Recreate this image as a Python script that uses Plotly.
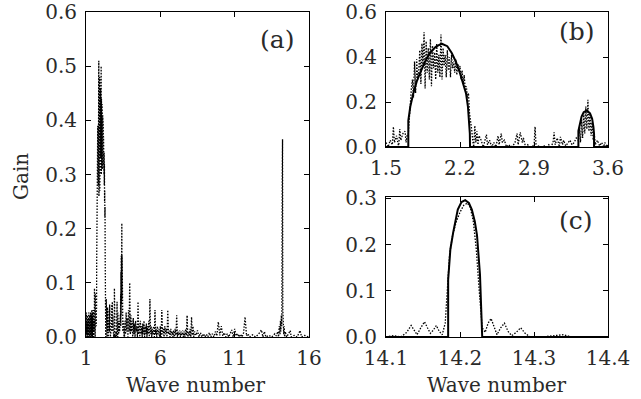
import plotly.graph_objects as go

# ---------------- data ----------------
# panel (a): leading part 1.0-1.5 of the simulated gain (dotted)
a_lead_x = [1.000, 1.015, 1.030, 1.045, 1.060, 1.075, 1.090, 1.105, 1.120, 1.135, 1.150,
            1.165, 1.180, 1.195, 1.210, 1.225, 1.240, 1.255, 1.270, 1.285, 1.300, 1.315,
            1.330, 1.345, 1.360, 1.375, 1.390, 1.405, 1.420, 1.435, 1.450, 1.465, 1.480,
            1.490]
a_lead_y = [0.04, 0.0, 0.045, 0.005, 0.03, 0.0, 0.04, 0.01, 0.025, 0.0, 0.035,
            0.005, 0.045, 0.0, 0.03, 0.01, 0.04, 0.0, 0.035, 0.005, 0.045, 0.0,
            0.03, 0.01, 0.04, 0.0, 0.05, 0.005, 0.035, 0.0, 0.045, 0.01, 0.05,
            0.0]

# simulated gain in 1.5-3.6 (dotted, panel b and part of a)
b_dot_x = [1.50, 1.52, 1.54, 1.56, 1.57, 1.58, 1.60, 1.62, 1.63, 1.64, 1.66, 1.68, 1.69, 1.70,
           1.710, 1.720, 1.730, 1.740, 1.750, 1.760, 1.770, 1.780, 1.790, 1.800, 1.810, 1.820,
           1.830, 1.840, 1.850, 1.860, 1.870, 1.880, 1.890, 1.900, 1.910, 1.920, 1.930, 1.940,
           1.950, 1.960, 1.970, 1.980, 1.990, 2.000, 2.010, 2.020, 2.030, 2.040, 2.050, 2.060,
           2.070, 2.080, 2.090, 2.100, 2.110, 2.120, 2.130, 2.140, 2.150, 2.160, 2.170, 2.180,
           2.190, 2.200, 2.210, 2.220, 2.230, 2.240, 2.250, 2.260, 2.270, 2.280, 2.290, 2.300,
           2.310, 2.320, 2.330,
           2.34, 2.35, 2.36, 2.37, 2.38, 2.40, 2.42, 2.44, 2.45, 2.46, 2.48, 2.50, 2.52, 2.54,
           2.56, 2.57, 2.59, 2.60, 2.62, 2.64, 2.66, 2.68, 2.70, 2.72, 2.74, 2.75, 2.77, 2.79,
           2.80, 2.82, 2.84, 2.86, 2.88, 2.90, 2.91, 2.92, 2.94, 2.96, 2.98, 3.00, 3.02, 3.04,
           3.06, 3.08, 3.09, 3.10, 3.12, 3.14, 3.15, 3.17, 3.18, 3.20, 3.22, 3.24, 3.26, 3.28,
           3.30, 3.32,
           3.33, 3.34, 3.35, 3.36, 3.37, 3.38, 3.39, 3.40, 3.41, 3.42, 3.43, 3.44, 3.45, 3.46,
           3.47, 3.48, 3.50, 3.52, 3.54, 3.56, 3.57, 3.59, 3.60]
b_dot_y = [0.02, 0.0, 0.03, 0.01, 0.09, 0.02, 0.05, 0.0, 0.08, 0.03, 0.06, 0.07, 0.02, 0.05,
           0.05, 0.14, 0.22, 0.26, 0.30, 0.22, 0.38, 0.24, 0.39, 0.30, 0.34, 0.43,
           0.28, 0.46, 0.36, 0.51, 0.26, 0.47, 0.33, 0.44, 0.30, 0.48, 0.27, 0.45,
           0.35, 0.42, 0.30, 0.46, 0.33, 0.41, 0.31, 0.50, 0.30, 0.44, 0.36, 0.41,
           0.31, 0.43, 0.34, 0.40, 0.31, 0.41, 0.35, 0.38, 0.33, 0.39, 0.32, 0.37,
           0.34, 0.36, 0.30, 0.34, 0.28, 0.32, 0.25, 0.27, 0.22, 0.24, 0.15, 0.12,
           0.08, 0.03, 0.0,
           0.095, 0.02, 0.07, 0.01, 0.05, 0.03, 0.0, 0.04, 0.055, 0.01, 0.03, 0.0, 0.02, 0.0,
           0.05, 0.01, 0.06, 0.02, 0.03, 0.0, 0.01, 0.0, 0.005, 0.02, 0.06, 0.01, 0.065, 0.02,
           0.04, 0.0, 0.01, 0.0, 0.005, 0.0, 0.09, 0.0, 0.005, 0.0, 0.0, 0.005, 0.0, 0.01,
           0.0, 0.02, 0.065, 0.01, 0.04, 0.0, 0.045, 0.01, 0.03, 0.005, 0.02, 0.03, 0.01, 0.02,
           0.04, 0.03,
           0.08, 0.02, 0.12, 0.04, 0.15, 0.06, 0.18, 0.08, 0.21, 0.07, 0.15, 0.05, 0.11, 0.03,
           0.06, 0.01, 0.03, 0.005, 0.02, 0.0, 0.02, 0.0, 0.01]

# panel (a): tail 3.6-16 (dotted)
a_tail_x = [3.62, 3.66, 3.70, 3.74, 3.78, 3.82, 3.86, 3.90, 3.94, 3.98, 4.02, 4.06, 4.10,
            4.14, 4.18, 4.22, 4.26, 4.30, 4.34, 4.38, 4.42, 4.46, 4.50, 4.54, 4.58, 4.62,
            4.66, 4.70, 4.74, 4.78, 4.82, 4.86, 4.90, 4.94, 4.98, 5.02, 5.06, 5.10, 5.14,
            5.18, 5.22, 5.26, 5.30, 5.34, 5.38, 5.42, 5.46, 5.50, 5.55, 5.60, 5.64, 5.68,
            5.72, 5.76, 5.80, 5.85, 5.90, 5.95, 6.00, 6.05, 6.10, 6.15, 6.20, 6.25, 6.30,
            6.35, 6.40, 6.45, 6.50, 6.55, 6.60, 6.65, 6.70, 6.75, 6.80, 6.85, 6.90, 6.95,
            7.00, 7.05, 7.10, 7.15, 7.20, 7.25, 7.30, 7.35, 7.40, 7.45, 7.50, 7.55, 7.60,
            7.65, 7.70, 7.75, 7.80, 7.85, 7.90, 7.95, 8.00, 8.05, 8.10, 8.15, 8.20, 8.25,
            8.30, 8.40, 8.50, 8.60, 8.70, 8.80, 8.90, 9.00, 9.10, 9.20, 9.30, 9.40, 9.50,
            9.60, 9.70, 9.80, 9.90, 10.00, 10.10, 10.20, 10.30, 10.40, 10.50, 10.60, 10.70,
            10.80, 10.90, 11.00, 11.10, 11.20, 11.30, 11.40, 11.50, 11.60, 11.70, 11.80,
            11.90, 12.00, 12.20, 12.40, 12.60, 12.80, 12.90, 13.00, 13.10, 13.30, 13.50,
            13.70, 13.80, 13.90, 13.95, 14.00, 14.05, 14.08, 14.11, 14.14, 14.17, 14.20,
            14.22, 14.24, 14.26, 14.28, 14.30, 14.33, 14.36, 14.40, 14.50, 14.60, 14.74,
            14.80, 15.00, 15.20, 15.40, 15.50, 15.70, 16.00]
a_tail_y = [0.03, 0.005, 0.045, 0.01, 0.035, 0.0, 0.05, 0.01, 0.1, 0.005, 0.04, 0.01, 0.03,
            0.0, 0.035, 0.005, 0.025, 0.0, 0.03, 0.01, 0.02, 0.0, 0.065, 0.005, 0.025, 0.0,
            0.03, 0.005, 0.02, 0.0, 0.025, 0.005, 0.03, 0.0, 0.02, 0.005, 0.025, 0.0, 0.02,
            0.005, 0.03, 0.0, 0.07, 0.005, 0.02, 0.0, 0.015, 0.005, 0.02, 0.0, 0.05, 0.005,
            0.015, 0.0, 0.02, 0.005, 0.015, 0.0, 0.02, 0.0, 0.05, 0.005, 0.015, 0.0, 0.02,
            0.005, 0.015, 0.0, 0.05, 0.005, 0.012, 0.0, 0.015, 0.003, 0.01, 0.0, 0.012, 0.0,
            0.015, 0.003, 0.04, 0.0, 0.01, 0.003, 0.012, 0.0, 0.01, 0.003, 0.012, 0.0, 0.01,
            0.0, 0.015, 0.003, 0.04, 0.0, 0.01, 0.003, 0.015, 0.0, 0.037, 0.003, 0.02, 0.0,
            0.01, 0.003, 0.012, 0.0, 0.008, 0.0, 0.006, 0.0, 0.005, 0.0, 0.008, 0.0, 0.006,
            0.0, 0.01, 0.002, 0.028, 0.003, 0.02, 0.002, 0.008, 0.0, 0.006, 0.0, 0.008,
            0.013, 0.0, 0.015, 0.002, 0.006, 0.0, 0.005, 0.0, 0.008, 0.037, 0.002,
            0.006, 0.0, 0.004, 0.0, 0.005, 0.013, 0.0, 0.01, 0.0, 0.003, 0.0,
            0.006, 0.002, 0.01, 0.0, 0.02, 0.005, 0.03, 0.01, 0.04, 0.02, 0.30,
            0.365, 0.05, 0.01, 0.04, 0.005, 0.02, 0.0, 0.01, 0.0, 0.005, 0.012,
            0.0, 0.003, 0.0, 0.012, 0.0, 0.003, 0.0]

# theory curve, panel (b) (solid)
b_fit_x = [1.50, 1.711, 1.711, 1.73, 1.758, 1.79, 1.822, 1.87, 1.916, 1.97, 2.027, 2.08,
           2.122, 2.16, 2.20, 2.235, 2.257, 2.275, 2.288, 2.293, 2.295, 3.32, 3.32, 3.335,
           3.35, 3.37, 3.40, 3.43, 3.45, 3.462, 3.468, 3.468, 3.60]
b_fit_y = [0.0, 0.0, 0.117, 0.18, 0.238, 0.29, 0.328, 0.38, 0.418, 0.445, 0.459, 0.448,
           0.418, 0.38, 0.328, 0.27, 0.238, 0.18, 0.117, 0.06, 0.0, 0.0, 0.072, 0.11,
           0.135, 0.155, 0.162, 0.15, 0.125, 0.09, 0.058, 0.0, 0.0]

# panel (c): simulated gain (dotted) and theory (solid)
c_dot_x = [14.100, 14.110, 14.120, 14.128, 14.134, 14.138, 14.142, 14.147, 14.152, 14.156,
           14.160, 14.164, 14.168, 14.172, 14.176, 14.180, 14.183, 14.186, 14.190, 14.195,
           14.200, 14.205, 14.210, 14.214, 14.218, 14.222, 14.226, 14.230, 14.234, 14.238,
           14.242, 14.246, 14.250, 14.255, 14.260, 14.265, 14.270, 14.276, 14.282, 14.288,
           14.295, 14.310, 14.330, 14.340, 14.350, 14.380, 14.400]
c_dot_y = [0.0, 0.003, 0.0, 0.01, 0.025, 0.015, 0.005, 0.02, 0.033, 0.02,
           0.008, 0.015, 0.025, 0.012, 0.005, 0.03, 0.12, 0.18, 0.22, 0.25,
           0.27, 0.285, 0.29, 0.28, 0.25, 0.19, 0.1, 0.02, 0.01, 0.03,
           0.04, 0.02, 0.005, 0.02, 0.03, 0.012, 0.003, 0.01, 0.02, 0.008,
           0.0, 0.0, 0.003, 0.005, 0.0, 0.0, 0.0]
c_fit_x = [14.10, 14.184, 14.184, 14.187, 14.191, 14.197, 14.202, 14.207, 14.212, 14.216,
           14.220, 14.223, 14.227, 14.229, 14.230, 14.40]
c_fit_y = [0.0, 0.0, 0.124, 0.19, 0.228, 0.276, 0.292, 0.296, 0.29, 0.276,
           0.25, 0.22, 0.135, 0.06, 0.0, 0.0]

a_x_ticks = [1, 6, 11, 16]
b_x_ticks = [1.5, 2.2, 2.9, 3.6]
c_x_ticks = [14.1, 14.2, 14.3, 14.4]

# ---------------- figure ----------------
W, H = 641, 399
FONT = "DejaVu Serif"
TXT = "#2a2a2a"
DOT = dict(color="black", width=1.3, dash="1.5px,1.5px")
SOLID = dict(color="black", width=2)

a_x = a_lead_x + b_dot_x + a_tail_x
a_y = a_lead_y + b_dot_y + a_tail_y

fig = go.Figure()
fig.add_trace(go.Scatter(x=a_x, y=a_y, mode="lines", line=DOT, xaxis="x", yaxis="y"))
fig.add_trace(go.Scatter(x=b_dot_x, y=b_dot_y, mode="lines", line=DOT, xaxis="x2", yaxis="y2"))
fig.add_trace(go.Scatter(x=b_fit_x, y=b_fit_y, mode="lines", line=SOLID, xaxis="x2", yaxis="y2"))
fig.add_trace(go.Scatter(x=c_dot_x, y=c_dot_y, mode="lines", line=DOT, xaxis="x3", yaxis="y3"))
fig.add_trace(go.Scatter(x=c_fit_x, y=c_fit_y, mode="lines", line=SOLID, xaxis="x3", yaxis="y3"))


def px(v):
    return v / W


def py(v):
    return (H - v) / H


common = dict(showline=True, linecolor="black", linewidth=1, mirror="ticks",
              ticks="inside", ticklen=5, tickcolor="black", tickwidth=1,
              showgrid=False, zeroline=False, automargin=False,
              tickfont=dict(family=FONT, size=20, color=TXT))
xcommon = dict(ticklabelstandoff=3, **common)
ycommon = dict(ticklabelstandoff=4, **common)

fig.update_layout(
    template="none",
    width=W, height=H, margin=dict(l=0, r=0, t=0, b=0, pad=0, autoexpand=False),
    paper_bgcolor="white", plot_bgcolor="white", showlegend=False,
    xaxis=dict(domain=[px(86), px(309)], range=[1, 16], tickvals=a_x_ticks,
               ticktext=[str(v) for v in a_x_ticks], anchor="y", **xcommon),
    yaxis=dict(domain=[py(337), py(12)], range=[0, 0.6], dtick=0.1, tickformat=".1f",
               anchor="x", **ycommon),
    xaxis2=dict(domain=[px(386), px(608)], range=[1.5, 3.6], tickvals=b_x_ticks,
                tickformat=".1f", anchor="y2", **xcommon),
    yaxis2=dict(domain=[py(147), py(12)], range=[0, 0.6], dtick=0.2, tickformat=".1f",
                anchor="x2", **ycommon),
    xaxis3=dict(domain=[px(386), px(608)], range=[14.1, 14.4], tickvals=c_x_ticks,
                tickformat=".1f", anchor="y3", **xcommon),
    yaxis3=dict(domain=[py(337), py(197)], range=[0, 0.303], dtick=0.1, tickformat=".1f",
                anchor="x3", **ycommon),
)

ann_font = dict(family=FONT, size=20, color=TXT)
lab_font = dict(family=FONT, size=25, color=TXT)
ann = dict(xref="paper", yref="paper", showarrow=False, xanchor="center", yanchor="middle")
fig.add_annotation(text="Gain", x=px(21), y=py(177), textangle=-90, font=ann_font, **ann)
fig.add_annotation(text="Wave number", x=px(196), y=py(385), font=ann_font, **ann)
fig.add_annotation(text="Wave number", x=px(497), y=py(385), font=ann_font, **ann)
fig.add_annotation(text="(a)", x=px(277), y=py(39), font=lab_font, **ann)
fig.add_annotation(text="(b)", x=px(577), y=py(31), font=lab_font, **ann)
fig.add_annotation(text="(c)", x=px(576), y=py(220), font=lab_font, **ann)

fig.write_html("out.html")
